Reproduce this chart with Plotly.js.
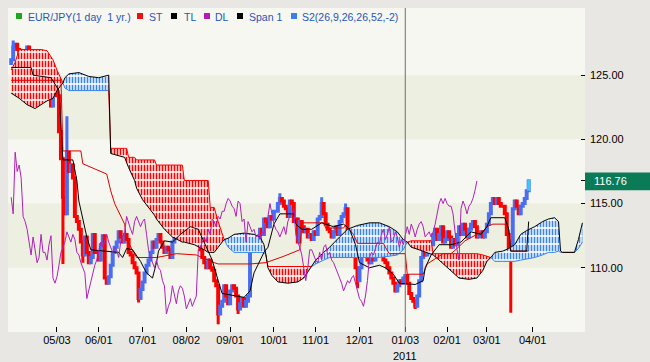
<!DOCTYPE html>
<html><head><meta charset="utf-8">
<script src="https://cdn.plot.ly/plotly-3.0.1.min.js"></script>
<style>html,body{margin:0;padding:0;background:#e9e7e3}#chart{width:650px;height:362px}</style>
</head><body><div id="chart"></div>
<script>
// ---------- DATA ----------
const firstDate = '2010-03-31';
const firstOpen = 125.9;
const closes = [
 126.2,127.2,127.4,
 127.0,126.0,125.0,124.6,126.5,
 127.2,125.8,126.6,125.6,124.4,
 124.3,125.0,124.6,123.6,125.0,
 125.4,123.2,122.6,124.4,124.2,
 123.4,120.6,118.5,115.5,114.2,
 119.0,117.5,118.0,117.0,114.0,
 113.6,113.0,112.0,111.0,112.4,
 111.2,110.4,110.8,112.6,111.2,
 111.2,110.6,111.8,112.5,109.2,
 108.8,109.3,110.2,111.2,111.6,
 112.0,112.8,112.4,112.0,112.6,
 112.2,111.2,111.0,110.4,110.0,
 109.6,107.6,108.3,108.9,109.6,
 110.2,110.6,111.2,112.0,111.6,
 112.2,112.6,112.0,111.6,111.2,
 111.6,111.4,110.8,112.0,112.4,
 112.8,114.0,113.4,113.0,112.6,
 113.6,114.0,113.6,113.2,113.6,
 113.8,112.6,111.4,110.8,110.4,
 110.0,110.6,110.0,109.8,109.0,
 108.6,106.4,107.0,107.4,108.6,
 107.8,107.2,108.2,108.6,108.4,
 107.8,106.8,107.2,107.6,107.0,
 107.4,107.8,111.4,111.6,112.0,
 112.4,112.0,113.0,112.6,113.8,
 113.6,113.2,114.0,113.8,114.4,
 114.4,115.0,115.4,115.2,114.8,
 114.6,114.0,115.2,115.0,113.6,
 113.8,112.0,113.6,113.2,112.8,
 113.0,112.4,112.6,112.2,112.8,
 112.6,113.8,114.0,115.0,114.2,
 113.4,113.0,112.8,112.4,112.8,
 113.2,112.6,113.6,114.0,114.2,
 114.6,112.6,112.0,111.6,111.0,
 110.0,109.0,110.0,111.4,111.4,
 111.0,110.6,110.4,111.2,110.6,
 111.6,111.8,111.0,111.2,110.6,
 110.4,110.0,109.6,109.2,108.8,
 108.2,108.6,109.0,108.8,109.2,
 109.4,108.8,108.0,107.6,107.4,
 107.0,107.8,109.0,110.8,111.2,
 111.0,111.6,112.0,111.8,112.6,
 113.0,112.2,112.6,113.2,112.0,
 112.2,112.8,112.4,111.6,112.2,
 111.8,112.6,113.2,112.6,113.4,
 113.0,112.4,113.0,113.4,113.6,
 113.2,112.4,112.6,112.8,112.4,
 112.8,113.4,114.2,115.0,115.4,
 115.0,115.4,115.0,114.8,114.8,
 114.2,112.6,111.4,110.6,114.6,
 115.2,114.8,114.2,114.8,115.0,
 115.4,116.0,116.76
];
const highWickDates  = ['2010-04-01','2010-05-10','2010-10-06','2010-11-04','2010-11-22','2011-03-30'];
const highWickValues = [127.7,121.8,115.8,115.5,115.0,116.9];
const lowWickDates   = ['2010-05-06','2010-05-20','2010-06-29','2010-08-24','2010-09-07','2010-11-30','2011-01-10','2011-03-17'];
const lowWickValues  = [110.3,110.4,107.3,105.6,106.4,108.4,106.8,106.5];

const stDates = ['2010-03-31','2010-05-05','2010-05-06','2010-05-19','2010-05-20','2010-06-01','2010-06-07','2010-06-09','2010-06-11','2010-06-18','2010-06-21','2010-06-28','2010-07-12','2010-07-26','2010-08-09','2010-08-20','2010-08-24','2010-09-15','2010-09-27','2010-10-08','2010-10-20','2010-10-21','2010-11-05','2010-11-08','2010-11-19','2010-11-22','2010-11-26','2010-11-30','2010-12-17','2010-12-20','2010-12-22','2011-01-03','2011-01-04','2011-01-14','2011-01-18','2011-01-28','2011-02-03','2011-02-08','2011-02-14','2011-02-22','2011-02-25','2011-03-01','2011-03-04','2011-03-14','2011-03-16','2011-03-17','2011-03-30'];
const stValues = [124.6,124.6,119.1,119.1,118.1,117.6,117.3,116.0,115.0,113.4,112.2,110.8,110.8,111.1,111.0,110.4,110.3,110.3,110.4,110.9,111.4,113.5,113.5,113.1,113.1,113.3,112.6,111.9,111.9,111.6,111.1,111.1,109.5,109.5,110.3,111.1,111.1,111.5,112.1,112.6,112.8,113.2,113.4,113.4,112.9,111.3,111.3];

const tlDates = ['2010-03-31','2010-04-14','2010-04-15','2010-04-28','2010-05-04','2010-05-06','2010-05-13','2010-05-17','2010-05-18','2010-05-20','2010-05-24','2010-05-26','2010-06-15','2010-06-17','2010-06-21','2010-06-24','2010-06-30','2010-07-05','2010-07-08','2010-07-12','2010-07-13','2010-07-16','2010-07-22','2010-07-28','2010-08-04','2010-08-10','2010-08-13','2010-08-19','2010-08-24','2010-08-26','2010-09-10','2010-09-15','2010-09-17','2010-09-24','2010-09-28','2010-10-01','2010-10-06','2010-10-15','2010-10-18','2010-10-21','2010-10-28','2010-11-04','2010-11-12','2010-11-19','2010-11-24','2010-11-29','2010-12-01','2010-12-08','2010-12-15','2010-12-20','2010-12-24','2010-12-29','2011-01-10','2011-01-14','2011-01-17','2011-01-20','2011-01-26','2011-02-03','2011-02-10','2011-02-17','2011-02-24','2011-03-01','2011-03-03','2011-03-14','2011-03-16','2011-03-17','2011-03-29','2011-03-30'];
const tlValues = [125.6,125.6,125.0,124.8,123.8,118.4,118.4,116.8,115.2,113.7,112.4,111.4,111.2,110.8,111.5,111.4,110.5,109.6,109.2,110.4,111.3,112.1,112.0,112.6,113.2,113.0,112.0,110.6,109.0,108.0,107.7,108.2,109.6,111.2,111.6,113.4,114.2,114.2,113.4,113.0,113.0,113.5,113.2,113.4,113.0,111.8,110.4,110.0,110.2,110.0,109.5,108.8,108.7,109.0,110.0,111.0,111.8,111.8,112.0,112.8,112.6,113.2,113.9,113.9,113.0,111.3,111.3,113.6];

const cloudDates = ['2010-03-31','2010-04-02','2010-04-06','2010-04-12','2010-04-16','2010-04-21','2010-04-26','2010-04-29','2010-05-03','2010-05-06','2010-05-07','2010-05-11','2010-05-18','2010-05-25','2010-06-01','2010-06-08','2010-06-09','2010-06-18','2010-06-21','2010-06-22','2010-06-25','2010-06-28','2010-07-01','2010-07-06','2010-07-09','2010-07-12','2010-07-16','2010-07-22','2010-07-29','2010-07-30','2010-08-06','2010-08-13','2010-08-17','2010-08-18','2010-08-20','2010-08-24','2010-08-26','2010-08-27','2010-08-31','2010-09-03','2010-09-10','2010-09-17','2010-09-22','2010-09-24','2010-09-27','2010-09-28','2010-09-30','2010-10-05','2010-10-12','2010-10-19','2010-10-22','2010-10-26','2010-10-28','2010-11-01','2010-11-05','2010-11-10','2010-11-17','2010-11-23','2010-11-30','2010-12-08','2010-12-15','2010-12-22','2010-12-28','2010-12-31','2011-01-04','2011-01-06','2011-01-12','2011-01-20','2011-01-21','2011-01-26','2011-01-31','2011-02-04','2011-02-09','2011-02-16','2011-02-22','2011-02-25','2011-03-01','2011-03-03','2011-03-07','2011-03-11','2011-03-16','2011-03-21','2011-03-24','2011-03-29','2011-04-04','2011-04-08','2011-04-13','2011-04-18','2011-04-20','2011-04-21','2011-04-22','2011-05-02','2011-05-04','2011-05-06'];
const span1 = [123.6,123.4,123.2,122.7,122.4,122.7,123.0,123.2,123.8,124.4,124.8,125.1,125.2,124.9,124.8,125.0,118.9,118.6,118.2,117.8,116.8,116.2,115.3,114.7,114.1,113.8,113.0,112.4,112.0,112.0,111.8,111.4,111.2,111.2,111.2,111.6,112.0,112.2,112.3,112.6,112.7,112.6,112.4,111.8,111.0,110.0,109.4,108.9,108.8,108.9,109.2,109.7,110.1,110.6,111.2,111.6,112.4,113.0,113.3,113.5,113.5,113.2,112.8,112.2,112.0,111.6,111.4,111.1,111.0,110.6,110.2,109.6,109.2,109.1,109.2,109.8,110.5,110.8,111.2,111.3,111.5,111.8,112.6,112.9,113.2,113.6,113.8,113.9,113.6,111.3,111.2,111.2,112.2,113.5];
const span2 = [125.4,126.0,127.0,127.0,127.0,127.0,126.9,126.2,125.4,124.4,124.0,123.8,123.8,123.8,123.8,123.8,119.3,119.3,119.3,118.6,118.6,118.4,118.4,118.4,118.4,118.0,118.0,118.0,118.0,116.8,116.8,116.8,116.8,114.7,114.7,113.6,112.6,112.2,111.6,111.2,111.2,111.2,111.2,111.2,111.0,110.1,110.1,110.1,110.1,110.1,110.1,110.1,110.1,110.3,110.6,110.8,110.8,110.8,110.8,110.8,110.8,110.9,111.0,111.4,112.0,112.1,112.1,112.1,111.1,111.1,111.1,111.1,111.1,111.1,111.1,111.0,110.9,110.8,110.5,110.5,110.5,110.5,110.6,110.7,110.8,111.0,111.2,111.2,111.3,111.2,111.2,111.2,111.5,112.0];

const tickDates  = ['2010-05-03','2010-06-01','2010-07-01','2010-08-02','2010-09-01','2010-10-01','2010-11-01','2010-12-01','2011-01-03','2011-02-01','2011-03-01','2011-04-01'];
const tickLabels = ['05/03','06/01','07/01','08/02','09/01','10/01','11/01','12/01','01/03','02/01','03/01','04/01'];
const yTicks = [110, 115, 120, 125];
const yearDate = '2011-01-03', yearLabel = '2011';
const lastPrice = 116.76;
const dlShift = 26;
const legendNames = ['EUR/JPY(1 day  1 yr.)','ST','TL','DL','Span 1','S2(26,9,26,26,52,-2)'];
const legendColors = ['#1fa51f','#ee1111','#000000','#b41cb4','#000000','#3a7ff0'];

// ---------- BUILD ----------
const RED = '#ff0000', BLUE = '#4a6ef2', CLOUDBLUE = '#3a86e8', MAG = '#b020b8';
function tradingDays(start, count){
  const out = []; const d = new Date(start + 'T00:00:00Z');
  while (out.length < count){
    const w = d.getUTCDay();
    if (w !== 0 && w !== 6) out.push(d.toISOString().slice(0,10));
    d.setUTCDate(d.getUTCDate() + 1);
  }
  return out;
}
const n = closes.length;
const dates = tradingDays(firstDate, n);
const opens = closes.map((c,i) => i === 0 ? firstOpen : closes[i-1]);
const highs = closes.map((c,i) => Math.max(opens[i], c));
const lows  = closes.map((c,i) => Math.min(opens[i], c));
highWickDates.forEach((d,k) => { const i = dates.indexOf(d); if (i >= 0) highs[i] = Math.max(highs[i], highWickValues[k]); });
lowWickDates.forEach((d,k) => { const i = dates.indexOf(d); if (i >= 0) lows[i] = Math.min(lows[i], lowWickValues[k]); });

const traces = [];
// cloud runs
const runs = []; let cur = null;
for (let i = 0; i < cloudDates.length; i++){
  const s = span2[i] > span1[i] ? 'r' : (span1[i] > span2[i] ? 'b' : null);
  if (cur === null){ cur = {c:s, idx:[i]}; continue; }
  if (s === null || cur.c === null || s === cur.c){
    cur.idx.push(i); if (cur.c === null) cur.c = s;
    if (s === null){ runs.push(cur); cur = {c:null, idx:[i]}; }
  } else { runs.push(cur); cur = {c:s, idx:[i-1, i]}; }
}
runs.push(cur);
runs.forEach(r => {
  if (!r.c || r.idx.length < 2) return;
  const xs = r.idx.map(i => cloudDates[i]);
  const lo = r.idx.map(i => span1[i]);
  const hi = r.idx.map(i => span2[i]);
  const col = r.c === 'r' ? RED : CLOUDBLUE;
  const base = {type:'scatter', mode:'lines', x:xs, hoverinfo:'skip', showlegend:false};
  traces.push(Object.assign({}, base, {y:lo, line:{width:0}}));
  traces.push(Object.assign({}, base, {y:hi, line:{width:0}, fill:'tonexty', fillcolor:'#ffffff',
    fillpattern:{shape:'|', fgcolor:col, bgcolor:'#ffffff', size:3, solidity:0.55}}));
  traces.push(Object.assign({}, base, {y:lo, line:{width:0}}));
  traces.push(Object.assign({}, base, {y:hi, line:{width:0}, fill:'tonexty', fillcolor:'rgba(0,0,0,0)',
    fillpattern:{shape:'-', fgcolor:'#ffffff', bgcolor:'rgba(0,0,0,0)', size:8, solidity:0.2}}));
});
// span2 outline, coloured by cloud
runs.forEach(r => {
  if (r.idx.length < 2) return;
  traces.push({type:'scatter', mode:'lines', x:r.idx.map(i => cloudDates[i]), y:r.idx.map(i => span2[i]),
    line:{color: r.c === 'b' ? CLOUDBLUE : RED, width:1}, hoverinfo:'skip', showlegend:false});
});
// span1
traces.push({type:'scatter', mode:'lines', x:cloudDates, y:span1, line:{color:'#000', width:1}, hoverinfo:'skip', showlegend:false});
// ST, TL
traces.push({type:'scatter', mode:'lines', x:stDates, y:stValues, line:{color:'#e00000', width:1}, hoverinfo:'skip', showlegend:false});
traces.push({type:'scatter', mode:'lines', x:tlDates, y:tlValues, line:{color:'#000', width:1}, hoverinfo:'skip', showlegend:false});
// DL (close plotted 26 periods back)
traces.push({type:'scatter', mode:'lines', x:dates.slice(0, n - dlShift), y:closes.slice(dlShift),
  line:{color:MAG, width:1}, hoverinfo:'skip', showlegend:false});
// candles
traces.push({type:'candlestick', x:dates, open:opens, high:highs, low:lows, close:closes,
  increasing:{line:{color:BLUE, width:3}, fillcolor:BLUE},
  decreasing:{line:{color:RED, width:3}, fillcolor:RED},
  whiskerwidth:0, hoverinfo:'skip', showlegend:false});
// last candle highlighted
traces.push({type:'scatter', mode:'lines', x:[dates[n-1], dates[n-1]], y:[opens[n-1], highs[n-1]],
  line:{color:'#33ccff', width:3}, hoverinfo:'skip', showlegend:false});

// layout
const W = 650, H = 362, ml = 8, mr = 65, mt = 8, mb = 30;
const pw = W - ml - mr, ph = H - mt - mb;
const px2paper = p => (p - ml) / pw;
const py2paper = p => (H - mb - p) / ph;
const shapes = [
  {type:'rect', xref:'paper', yref:'y', x0:0, x1:1, y0:110, y1:115, fillcolor:'#edefe0', line:{width:0}, layer:'below'},
  {type:'rect', xref:'paper', yref:'y', x0:0, x1:1, y0:120, y1:125, fillcolor:'#edefe0', line:{width:0}, layer:'below'},
  {type:'line', xref:'x', yref:'paper', x0:yearDate, x1:yearDate, y0:0, y1:1, line:{color:'#6e6e6e', width:1}},
  {type:'rect', xref:'paper', yref:'y', x0:1, x1:1 + 65/pw, y0:lastPrice - 0.72, y1:lastPrice + 0.66, fillcolor:'#0b7b57', line:{width:0}}
];
const annotations = [
  {xref:'paper', yref:'y', x:1 + 7/pw, y:lastPrice, xanchor:'left', yanchor:'middle', showarrow:false,
   text:lastPrice.toFixed(2), font:{family:'Liberation Sans, Arial', size:11, color:'#ffffff'}},
  {xref:'x', yref:'paper', x:yearDate, y:0, yanchor:'top', yshift:-16, showarrow:false, text:yearLabel,
   font:{family:'Liberation Sans, Arial', size:11, color:'#000'}}
];
const sqX = [16, 137, 171, 204, 237, 291];
const txX = [26, 147, 182, 213, 247, 300];
legendNames.forEach((name, k) => {
  shapes.push({type:'rect', xref:'paper', yref:'paper', x0:px2paper(sqX[k]), x1:px2paper(sqX[k] + 6),
    y0:py2paper(19), y1:py2paper(13), fillcolor:legendColors[k], line:{width:0}});
  annotations.push({xref:'paper', yref:'paper', x:px2paper(txX[k]), y:py2paper(16.5), xanchor:'left', yanchor:'middle',
    showarrow:false, text:name, font:{family:'Liberation Sans, Arial', size:10.5, color:'#2855b8'}});
});

const layout = {
  width:W, height:H, margin:{l:ml, r:mr, t:mt, b:mb, pad:0},
  paper_bgcolor:'#e9e7e3', plot_bgcolor:'#f6f7f0', showlegend:false, hovermode:false,
  font:{family:'Liberation Sans, Arial', size:11, color:'#000'},
  xaxis:{type:'date', range:['2010-03-29 09:36','2011-05-09 07:12'], rangebreaks:[{bounds:['sat','mon']}],
    rangeslider:{visible:false}, tickvals:tickDates, ticktext:tickLabels, ticks:'inside', ticklen:5,
    tickcolor:'#000', showgrid:false, zeroline:false, showline:false, fixedrange:true,
    tickfont:{family:'Liberation Sans, Arial', size:11, color:'#000'}},
  yaxis:{side:'right', range:[105, 130.23], tickvals:yTicks.concat([lastPrice]),
    ticktext:yTicks.map(v => v.toFixed(2)).concat(['']), ticks:'inside', ticklen:4, tickcolor:'#000',
    showgrid:false, zeroline:false, showline:false, fixedrange:true, ticklabelstandoff:4,
    tickfont:{family:'Liberation Sans, Arial', size:11, color:'#000'}},
  shapes:shapes, annotations:annotations
};
Plotly.newPlot('chart', traces, layout, {staticPlot:true, displayModeBar:false});
</script></body></html>
